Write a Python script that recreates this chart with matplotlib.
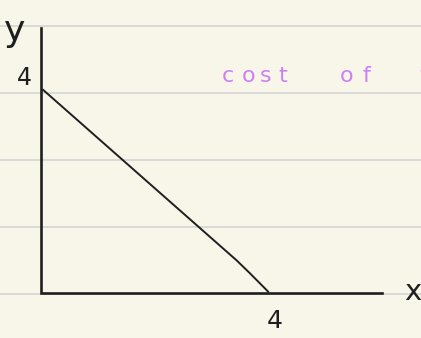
import matplotlib
matplotlib.use("Agg")
import matplotlib.pyplot as plt

# sketch of a straight cost line on lined paper
line_x = [0.04, 3.45, 3.68, 4.0]
line_y = [4.0, 0.64, 0.39, 0.03]
x_axis_end = 6.0
y_axis_top = 5.22
x_tick_val = 4
y_tick_val = 4
note_letters = ["c", "o", "s", "t", "o", "f", "t"]
note_x = [228, 249, 266, 283, 347, 366, 424]  # pixel positions of the note letters

W, H = 421, 338
x0_px, y0_px = 41, 293
sx, sy = 56.75, 50.75

bg = "#f8f6e9"
ink = "#1f1f1f"
purple = "#cf7ff2"

fig = plt.figure(figsize=(W / 100, H / 100), dpi=100, facecolor=bg)
ax = fig.add_axes([0, 0, 1, 1])
ax.set_facecolor(bg)
ax.set_xlim(-x0_px / sx, (W - x0_px) / sx)
ax.set_ylim(-(H - y0_px) / sy, y0_px / sy)
ax.axis("off")

# ruled paper lines
for py in [26, 93, 160, 227, 294]:
    ax.plot([0, 1], [1 - py / H] * 2, color="#d6d6d6", lw=1.3,
            zorder=0, transform=ax.transAxes)

# axes drawn by hand
ax.plot([0, 0, x_axis_end], [y_axis_top, 0, 0], color=ink, lw=1.9,
        solid_joinstyle="miter", zorder=3)
ax.plot(line_x, line_y, color=ink, lw=1.4, zorder=3)

fam = ["DejaVu Sans"]
ax.text(15 / W, 1 - 31 / H, "y", transform=ax.transAxes, fontsize=26,
        ha="center", va="center", family=fam, color=ink)
ax.text(-0.3, y_tick_val + 0.24, str(y_tick_val), fontsize=17, ha="center",
        va="center", family=fam, color=ink)
ax.text(x_tick_val + 0.12, -0.55, str(x_tick_val), fontsize=18, ha="center",
        va="center", family=fam, color=ink)
ax.text(413 / W, 1 - 292 / H, "x", transform=ax.transAxes, fontsize=21,
        ha="center", va="center", family=fam, color=ink)

for ch, px in zip(note_letters, note_x):
    ax.text(px / W, 1 - 76 / H, ch, transform=ax.transAxes, fontsize=16,
            ha="center", va="center", family=fam, color=purple)

fig.savefig("out.png", dpi=100, facecolor=bg)
